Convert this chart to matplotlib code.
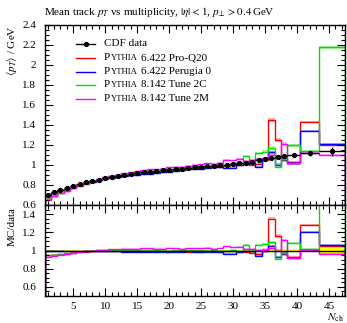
import matplotlib
matplotlib.use('Agg')
import matplotlib.pyplot as plt
import numpy as np
from matplotlib.offsetbox import TextArea, HPacker, AnnotationBbox
from matplotlib.ticker import MultipleLocator, FormatStrFormatter
from matplotlib.lines import Line2D

plt.rcParams['font.family'] = ['Liberation Serif', 'DejaVu Serif']
plt.rcParams['mathtext.fontset'] = 'stix'

# ---------------- data ----------------
nch_edges = [0.5, 1.5, 2.5, 3.5, 4.5, 5.5, 6.5, 7.5, 8.5, 9.5, 10.5,
             11.5, 12.5, 13.5, 14.5, 15.5, 16.5, 17.5, 18.5, 19.5, 20.5,
             21.5, 22.5, 23.5, 24.5, 25.5, 26.5, 27.5, 28.5, 29.5, 30.5,
             31.5, 32.5, 33.5, 34.5, 35.5, 36.5, 37.5, 38.5, 40.5, 43.5, 47.5]
nch_centers = [1, 2, 3, 4, 5, 6, 7, 8, 9, 10,
               11, 12, 13, 14, 15, 16, 17, 18, 19, 20,
               21, 22, 23, 24, 25, 26, 27, 28, 29, 30,
               31, 32, 33, 34, 35, 36, 37, 38, 39.5, 42, 45.5]
cdf_mean = [0.700, 0.726, 0.750, 0.772, 0.792, 0.810, 0.826, 0.841, 0.855, 0.868,
            0.880, 0.891, 0.901, 0.910, 0.918, 0.926, 0.933, 0.940, 0.946, 0.952,
            0.958, 0.964, 0.970, 0.976, 0.982, 0.988, 0.993, 0.998, 1.004, 1.010,
            1.016, 1.024, 1.034, 1.047, 1.060, 1.072, 1.080, 1.090, 1.105, 1.117, 1.140]
cdf_err = [0.006, 0.004, 0.004, 0.004, 0.004, 0.004, 0.004, 0.004, 0.004, 0.004,
           0.004, 0.004, 0.004, 0.004, 0.004, 0.004, 0.004, 0.004, 0.004, 0.004,
           0.005, 0.005, 0.005, 0.005, 0.006, 0.006, 0.006, 0.007, 0.007, 0.008,
           0.008, 0.009, 0.010, 0.011, 0.012, 0.014, 0.016, 0.018, 0.018, 0.022, 0.045]

ratio_proq20 = [0.95, 0.955, 0.96, 0.965, 0.975, 0.98, 0.985, 0.99, 0.995, 1.0,
                1.0, 1.0, 1.0, 0.995, 0.995, 0.995, 0.995, 0.99, 0.99, 0.985,
                0.99, 0.99, 0.985, 0.99, 0.985, 0.99, 0.99, 0.985, 0.99, 1.0,
                0.98, 0.985, 0.97, 0.965, 0.99,
                1.35, 1.16, 0.96, 0.93, 1.28, 1.05]
ratio_perugia0 = [1.0, 0.995, 0.995, 0.99, 0.99, 0.99, 0.99, 0.99, 0.99, 0.99,
                  0.99, 0.99, 0.985, 0.985, 0.98, 0.98, 0.98, 0.98, 0.985, 0.98,
                  0.98, 0.985, 0.99, 0.98, 0.98, 0.98, 0.985, 0.985, 0.965, 0.965,
                  0.985, 0.99, 0.99, 0.94, 1.0,
                  1.05, 0.93, 0.97, 0.92, 1.20, 1.06]
ratio_2c = [0.95, 0.955, 0.96, 0.97, 0.975, 0.985, 0.99, 0.995, 1.0, 1.0,
            1.005, 1.005, 1.005, 1.005, 1.005, 1.005, 1.005, 1.005, 1.0, 1.0,
            1.005, 1.005, 1.005, 1.005, 1.005, 1.0, 1.005, 1.0, 1.0, 1.005,
            1.0, 1.065, 1.0, 1.065, 1.07,
            1.09, 0.91, 0.975, 1.085, 1.02, 1.91]
ratio_2m = [0.93, 0.945, 0.955, 0.965, 0.975, 0.985, 0.995, 1.0, 1.005, 1.01,
            1.015, 1.015, 1.02, 1.02, 1.02, 1.025, 1.025, 1.02, 1.02, 1.025,
            1.025, 1.02, 1.025, 1.025, 1.025, 1.03, 1.02, 1.025, 1.045, 1.035,
            1.04, 1.02, 1.015, 1.01, 1.01,
            1.03, 1.0, 1.11, 0.92, 1.005, 0.965]
mc_relerr = [0.006] * 30 + [0.008, 0.008, 0.010, 0.010, 0.012,
                            0.015, 0.015, 0.018, 0.012, 0.010, 0.006]

series = [("6.422 Pro-Q20", ratio_proq20, '#ff0000'),
          ("6.422 Perugia 0", ratio_perugia0, '#0000ff'),
          ("8.142 Tune 2C", ratio_2c, '#00dd00'),
          ("8.142 Tune 2M", ratio_2m, '#ff00ff')]

title = r"Mean track $p_T$ vs multiplicity, $|\eta| < 1$, $p_\perp > 0.4\,$GeV"

# ---------------- figure ----------------
W, H = 347, 323
fig = plt.figure(figsize=(W / 100, H / 100), dpi=100)
L, R = 44.5 / W, 344.9 / W
ax = fig.add_axes([L, 1 - 205 / H, R - L, (205 - 25) / H])
rax = fig.add_axes([L, 1 - 296 / H, R - L, (296 - 205) / H], sharex=ax)

edges = np.array(nch_edges)
x = np.array(nch_centers)
data = np.array(cdf_mean)
derr = np.array(cdf_err)
xlo = x - edges[:-1]
xhi = edges[1:] - x
rel = np.array(mc_relerr)

for name, rat, c in series:
    vals = data * np.array(rat)
    e = vals * rel
    ax.stairs(vals + e, edges, baseline=vals - e, fill=True, color=c, alpha=0.3, lw=0)
    ax.stairs(vals, edges, color=c, lw=1.0)

ax.errorbar(x, data, xerr=[xlo, xhi], yerr=derr, fmt='o', ms=2.8, color='k',
            elinewidth=1.0, capsize=0, zorder=5)

# ratio
drel = derr / data
rax.stairs(1 + drel, edges, baseline=1 - drel, fill=True, color='#ffff00', lw=0)
for name, rat, c in series:
    r = np.array(rat)
    rax.stairs(r * (1 + rel), edges, baseline=r * (1 - rel), fill=True, color=c, alpha=0.3, lw=0)
    rax.stairs(r, edges, color=c, lw=1.0)
rax.stairs(np.ones_like(data), edges, color='k', lw=1.0, zorder=4)

ax.set_xlim(0.5, 47.5)
ax.set_ylim(0.6, 2.4)
rax.set_ylim(0.5, 1.5)

for a in (ax, rax):
    a.tick_params(which='both', direction='in', top=True, right=True, labelsize=8, width=0.8, pad=6)
    a.tick_params(which='major', length=6)
    a.tick_params(which='minor', length=3)
    a.xaxis.set_major_locator(MultipleLocator(5))
    a.xaxis.set_minor_locator(MultipleLocator(1))
    a.yaxis.set_major_locator(MultipleLocator(0.2))
    a.yaxis.set_minor_locator(MultipleLocator(0.05))
    a.yaxis.set_major_formatter(FormatStrFormatter('%g'))
    for s in a.spines.values():
        s.set_linewidth(1.0)
ax.tick_params(labelbottom=False)
rax.tick_params(axis='x', pad=4)

fig.text(L, 1 - 12 / H, title, ha='left', va='center', fontsize=8)
fig.text(12 / W, 1 - 25 / H, r'$\langle p_T\rangle$ / GeV', rotation=90, ha='center', va='top', fontsize=8)
fig.text(12 / W, 1 - 207 / H, 'MC/data', rotation=90, ha='center', va='top', fontsize=8)
fig.text(344 / W, 1 - 318 / H, r'$N_\mathrm{ch}$', ha='right', va='center', fontsize=8)

# legend
FS, SC = 8, 6.3
rows_y = [44, 58, 71.5, 85, 98.5]
hx0, hx1, tx = 76, 95, 104


def add_row(box, yp):
    ab = AnnotationBbox(box, (tx / W, 1 - yp / H), xycoords='figure fraction',
                        box_alignment=(0, 0.5), frameon=False, pad=0, annotation_clip=False)
    ax.add_artist(ab)


yf = 1 - rows_y[0] / H
fig.add_artist(Line2D([hx0 / W, hx1 / W], [yf, yf], transform=fig.transFigure, color='k', lw=1.0))
fig.add_artist(Line2D([(hx0 + hx1) / 2 / W], [yf], transform=fig.transFigure, color='k',
                      marker='o', ms=2.8))
add_row(TextArea('CDF data', textprops=dict(fontsize=FS)), rows_y[0])

for (name, rat, c), yp in zip(series, rows_y[1:]):
    yf = 1 - yp / H
    fig.add_artist(Line2D([hx0 / W, hx1 / W], [yf, yf], transform=fig.transFigure, color=c, lw=1.0))
    p = TextArea('P', textprops=dict(fontsize=FS))
    yy = TextArea('YTHIA', textprops=dict(fontsize=SC))
    rest = TextArea(name, textprops=dict(fontsize=FS))
    inner = HPacker(children=[p, yy], align='baseline', pad=0, sep=0.2)
    box = HPacker(children=[inner, rest], align='baseline', pad=0, sep=2.5)
    add_row(box, yp)

fig.savefig('out.png', dpi=100)
